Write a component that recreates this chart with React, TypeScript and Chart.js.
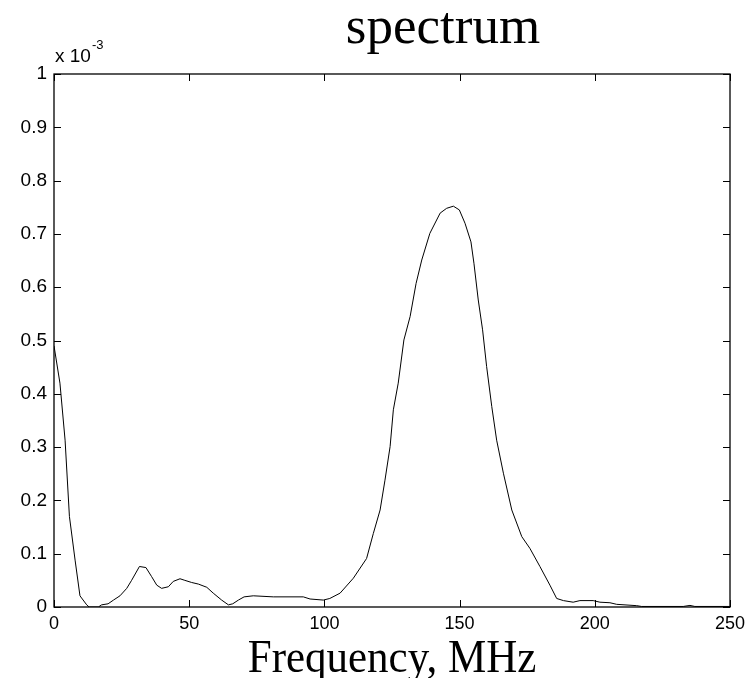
import React, { useEffect, useRef } from "react";
import { Chart, registerables } from "chart.js";

Chart.register(...registerables);

const freqMHz: number[] = [
  0, 2.2, 4.1, 5.7, 7.8, 9.6, 12.1, 13, 16.4, 17.6, 20, 22, 24.4, 26.9, 28.7, 31.6, 34, 36.1, 38, 39.8,
  42.3, 44.1, 46.6, 48.4, 50.9, 53.4, 56.5, 58.9, 62, 64.5, 66.1, 68.2, 70.3, 73.7, 81.1, 92.2, 94.7, 99.6,
  102, 105.8, 110.7, 115.6, 118.1, 120.6, 122.4, 124.3, 125.5, 127.3, 129.4, 131.7, 133.9, 136, 139, 142.8,
  145.2, 147.7, 149.9, 152, 154.2, 155.3, 156.9, 158.5, 160, 161.9, 163.7, 166.2, 169.3, 173, 176, 179.7,
  183.4, 185.9, 188.4, 192, 194.5, 199.4, 201.9, 205.6, 208.1, 215.5, 217.3, 232.7, 235.2, 237, 250,
];

// amplitude in units of 1e-3
const amplitude: number[] = [
  0.49, 0.42, 0.313, 0.17, 0.088, 0.021, 0.004, 0, 0, 0.004, 0.006, 0.013, 0.021, 0.035, 0.05, 0.076, 0.074,
  0.057, 0.041, 0.035, 0.038, 0.048, 0.053, 0.05, 0.046, 0.043, 0.037, 0.026, 0.013, 0.004, 0.006, 0.013,
  0.019, 0.021, 0.019, 0.019, 0.015, 0.013, 0.016, 0.026, 0.054, 0.091, 0.138, 0.182, 0.238, 0.301, 0.37,
  0.42, 0.501, 0.545, 0.607, 0.651, 0.701, 0.739, 0.748, 0.752, 0.745, 0.72, 0.685, 0.645, 0.576, 0.52,
  0.451, 0.376, 0.313, 0.251, 0.182, 0.132, 0.11, 0.076, 0.041, 0.016, 0.012, 0.009, 0.012, 0.012, 0.009,
  0.008, 0.005, 0.0025, 0.001, 0.001, 0.003, 0.001, 0.001,
];

const titleText = "spectrum";
const xLabelText = "Frequency, MHz";
const multiplierBase = "x 10";
const multiplierExp = "-3";
const xRange = [0, 250];
const yRange = [0, 1];

const SANS = '"Liberation Sans", Arial, sans-serif';
const SERIF = '"Liberation Serif", "Times New Roman", serif';

const boxPlugin = {
  id: "matlabBox",
  afterDraw(chart: any) {
    const { ctx, chartArea } = chart;
    const { left, right, top, bottom } = chartArea;
    const xs = chart.scales.x;
    const ys = chart.scales.y;
    ctx.save();
    ctx.strokeStyle = "#000";
    ctx.lineWidth = 1.3;
    ctx.strokeRect(left, top, right - left, bottom - top);
    ctx.lineWidth = 1;
    const tl = 7;
    ctx.beginPath();
    xs.ticks.forEach((t: any) => {
      const px = Math.round(xs.getPixelForValue(t.value)) + 0.5;
      ctx.moveTo(px, bottom);
      ctx.lineTo(px, bottom - tl);
      ctx.moveTo(px, top);
      ctx.lineTo(px, top + tl);
    });
    ys.ticks.forEach((t: any) => {
      const py = Math.round(ys.getPixelForValue(t.value)) + 0.5;
      ctx.moveTo(left, py);
      ctx.lineTo(left + tl, py);
      ctx.moveTo(right, py);
      ctx.lineTo(right - tl, py);
    });
    ctx.stroke();

    ctx.fillStyle = "#000";
    ctx.textBaseline = "alphabetic";
    ctx.textAlign = "center";
    ctx.font = `53px ${SERIF}`;
    ctx.fillText(titleText, 443, 43);

    ctx.save();
    ctx.translate((left + right) / 2, 672);
    ctx.scale(1, 1.08);
    ctx.font = `43px ${SERIF}`;
    ctx.fillText(xLabelText, 0, 0);
    ctx.restore();

    ctx.textAlign = "left";
    ctx.font = `19px ${SANS}`;
    ctx.fillText(multiplierBase, left + 1, 62);
    const w = ctx.measureText(multiplierBase).width;
    ctx.font = `13px ${SANS}`;
    ctx.fillText(multiplierExp, left + 1 + w + 1, 49);
    ctx.restore();
  },
};

export default function App() {
  const ref = useRef<HTMLCanvasElement | null>(null);
  useEffect(() => {
    if (!ref.current) return;
    const chart = new Chart(ref.current, {
      type: "line",
      data: {
        datasets: [
          {
            data: freqMHz.map((f, i) => ({ x: f, y: amplitude[i] })),
            borderColor: "#000",
            borderWidth: 1,
            pointRadius: 0,
            tension: 0,
            fill: false,
          },
        ],
      },
      options: {
        animation: false,
        responsive: false,
        maintainAspectRatio: false,
        layout: { padding: { left: 0, top: 74, right: 25, bottom: 0 } },
        plugins: { legend: { display: false }, title: { display: false }, tooltip: { enabled: false } },
        scales: {
          x: {
            type: "linear",
            min: xRange[0],
            max: xRange[1],
            grid: { display: false, drawTicks: false },
            border: { display: false },
            ticks: {
              stepSize: 50,
              color: "#000",
              padding: 6,
              maxRotation: 0,
              font: { family: SANS, size: 18 },
            },
            afterFit: (s: any) => {
              s.height = 71;
            },
          },
          y: {
            type: "linear",
            min: yRange[0],
            max: yRange[1],
            grid: { display: false, drawTicks: false },
            border: { display: false },
            ticks: {
              stepSize: 0.1,
              color: "#000",
              padding: 7,
              font: { family: SANS, size: 19 },
              callback: (v: any) => {
                const n = Number(v);
                if (Math.abs(n) < 1e-9) return "0";
                if (Math.abs(n - 1) < 1e-9) return "1";
                return n.toFixed(1);
              },
            },
            afterFit: (s: any) => {
              s.width = 54;
            },
          },
        },
      },
      plugins: [boxPlugin],
    });
    return () => chart.destroy();
  }, []);
  return (
    <div style={{ position: "absolute", left: 0, top: 0, width: 755, height: 678, background: "#fff" }}>
      <canvas ref={ref} width={755} height={678} style={{ display: "block" }} />
    </div>
  );
}
